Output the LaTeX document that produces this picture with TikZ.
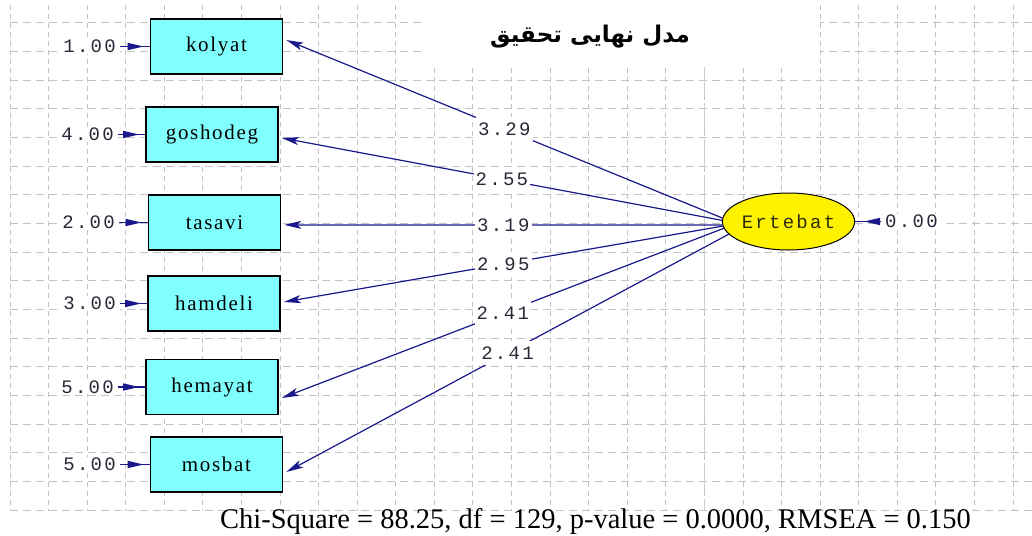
\documentclass[tikz,border=0pt]{standalone}
\usepackage{fontspec}
\setmainfont{Liberation Serif}
\newfontfamily\boxfont[LetterSpace=8]{Liberation Serif}
\newfontfamily\numfont[LetterSpace=12]{Liberation Mono}
\newfontfamily\farsifont[Script=Arabic]{DejaVu Sans}
\TeXXeTstate=1
\usetikzlibrary{arrows.meta,shapes.geometric,decorations.markings}

\definecolor{gridgray}{RGB}{195,195,195}
\definecolor{axisgray}{RGB}{205,205,205}
\definecolor{boxcyan}{RGB}{128,255,255}
\definecolor{pathblue}{RGB}{25,25,140}
\definecolor{numdark}{RGB}{40,40,55}
\definecolor{latenttext}{RGB}{45,45,10}

\begin{document}
\begin{tikzpicture}[x=1pt,y=-1pt,
  vgrid/.style={gridgray, line width=1pt, dash pattern=on 5pt off 4pt},
  hgrid/.style={gridgray, line width=1pt, dash pattern=on 8pt off 5pt},
  axisline/.style={axisgray, line width=1.8pt, dash pattern=on 28pt off 8pt},
  obs/.style={rectangle, draw=black, line width=1.6pt, fill=boxcyan,
    minimum width=132pt, minimum height=55pt, inner sep=0pt,
    font={\boxfont\fontsize{21pt}{21pt}\selectfont}},
  lat/.style={ellipse, draw=black, line width=1pt, fill=yellow,
    minimum width=131pt, minimum height=57pt, inner sep=0pt,
    text=latenttext, font={\numfont\fontsize{19pt}{19pt}\selectfont}},
  errnum/.style={fill=white, inner xsep=4pt, inner ysep=1pt, text=numdark,
    font={\numfont\fontsize{19pt}{19pt}\selectfont}},
  coef/.style={fill=white, inner xsep=2pt, inner ysep=6pt, text=numdark,
    font={\numfont\fontsize{19pt}{19pt}\selectfont}},
  loading/.style={pathblue, line width=1.2pt,
    -{Stealth[length=17pt,width=8pt,inset=4pt]}},
  errarrow/.style={pathblue, line width=1.3pt, postaction={decorate},
    decoration={markings, mark=at position -6pt with
      {\arrow{Triangle[length=16pt,width=7pt,color=pathblue]}}}},
  errarrowrev/.style={pathblue, line width=1.3pt, postaction={decorate},
    decoration={markings, mark=at position 17pt with
      {\arrow{Triangle[length=16pt,width=7pt,color=pathblue]}}}}
]
\useasboundingbox (0,0) rectangle (1032,535);
\fill[white] (0,0) rectangle (1032,535);

% background grid
\foreach \k in {0,...,26}
  \draw[vgrid] ({10+38.58*\k},5) -- ({10+38.58*\k},511);
\foreach \j in {0,...,17}
  \draw[hgrid] (10,{23+28.65*\j}) -- (1032,{23+28.65*\j});

% blank band behind the heading
\fill[white] (423,0) rectangle (820,66);

% vertical axis line
\draw[axisline] (704.4,67) -- (704.4,511);

% heading
\node[font={\farsifont\bfseries\fontsize{23pt}{23pt}\selectfont}] (title) at (590,37)
  {\beginR مدل نهایی تحقیق\endR};

% observed indicators
\node[obs] (kolyat)   at (216.5,46.5) {kolyat};
\node[obs] (goshodeg) at (212,134.5)  {goshodeg};
\node[obs] (tasavi)   at (214.5,222.5) {tasavi};
\node[obs] (hamdeli)  at (214,303.5)  {hamdeli};
\node[obs] (hemayat)  at (212,387)    {hemayat};
\node[obs] (mosbat)   at (216.5,464.5) {mosbat};

% latent factor
\node[lat] (E) at (788.5,221.5) {Ertebat};

% error variances
\node[errnum, anchor=east] (e1) at (120,46.5)  {1.00};
\node[errnum, anchor=east] (e2) at (118,134.5) {4.00};
\node[errnum, anchor=east] (e3) at (119,222.5) {2.00};
\node[errnum, anchor=east] (e4) at (120,303.5) {3.00};
\node[errnum, anchor=east] (e5) at (118,387)   {5.00};
\node[errnum, anchor=east] (e6) at (120,464.5) {5.00};
\node[errnum, anchor=west] (e0) at (881,221.5) {0.00};

\draw[errarrow] (e1) -- (kolyat);
\draw[errarrow] (e2) -- (goshodeg);
\draw[errarrow] (e3) -- (tasavi);
\draw[errarrow] (e4) -- (hamdeli);
\draw[errarrow] (e5) -- (hemayat);
\draw[errarrow] (e6) -- (mosbat);
\draw[errarrowrev] (e0) -- (E);

% factor loadings
\draw[loading] (E.177) -- node[coef] {3.29} ([shift={(3,-6.5)}]kolyat.east);
\draw[loading] (E.179) -- node[coef] {2.55} ([shift={(3,3.5)}]goshodeg.east);
\draw[loading] (E.183) -- node[coef] {3.19} ([shift={(3,2.4)}]tasavi.east);
\draw[loading] (E.184) -- node[coef] {2.95} ([shift={(3,-1.5)}]hamdeli.east);
\draw[loading] (E.186) -- node[coef] {2.41} ([shift={(3,11)}]hemayat.east);
\draw[loading] (E.192) -- node[coef] {2.41} ([shift={(3,7.5)}]mosbat.east);

% fit statistics
\node[anchor=base west, inner sep=0pt, font={\fontsize{28.5pt}{29pt}\selectfont}] (fit) at (220,528)
  {Chi-Square = 88.25, df = 129, p-value = 0.0000, RMSEA = 0.150};
\end{tikzpicture}
\end{document}
